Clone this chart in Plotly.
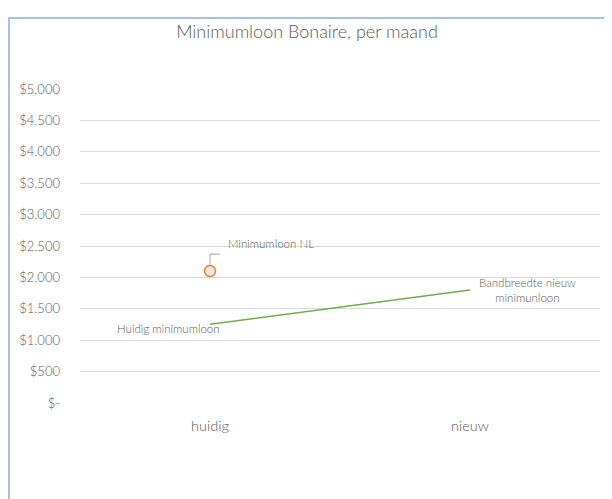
import plotly.graph_objects as go

categories = ["huidig", "nieuw"]
bonaire_values = [1255, 1800]
nl_category = ["huidig"]
nl_values = [2100]
tick_values = [0, 500, 1000, 1500, 2000, 2500, 3000, 3500, 4000, 4500, 5000]
tick_labels = ["$-", "$500", "$1.000", "$1.500", "$2.000", "$2.500", "$3.000",
               "$3.500", "$4.000", "$4.500", "$5.000"]

FONT = "Lato"
GREY = "#595959"
W = 300

L, R, T, B = 72, 20, 81, 104
PW, PH = 612 - L - R, 499 - T - B

fig = go.Figure()
fig.add_trace(go.Scatter(
    x=categories, y=bonaire_values, mode="lines",
    line=dict(color="#70AD47", width=1.5), name="Bonaire", showlegend=False,
))
fig.add_trace(go.Scatter(
    x=nl_category, y=nl_values, mode="markers",
    marker=dict(size=11, color="rgba(237,125,49,0.18)",
                line=dict(color="#ED7D31", width=1.5)),
    name="Minimumloon NL", showlegend=False,
))

# data labels
fig.add_annotation(x=categories[0], y=bonaire_values[0], text="Huidig minimumloon",
                   showarrow=False, xanchor="right", yanchor="middle", xshift=12, yshift=-4,
                   font=dict(family=FONT, size=11.5, color=GREY, weight=W))
fig.add_annotation(x=categories[1], y=bonaire_values[1], text="Bandbreedte nieuw<br>minimunloon",
                   showarrow=False, xanchor="left", yanchor="middle", xshift=7, yshift=0,
                   align="center", font=dict(family=FONT, size=11.5, color=GREY, weight=W))
fig.add_annotation(x=nl_category[0], y=nl_values[0], text="Minimumloon NL",
                   showarrow=False, xanchor="left", yanchor="middle", xshift=16, yshift=28,
                   font=dict(family=FONT, size=11.5, color=GREY, weight=W))
# elbow leader line anchored to the NL point
fig.add_shape(type="path", xref="x", yref="y", xsizemode="pixel", ysizemode="pixel",
              xanchor=nl_category[0], yanchor=nl_values[0],
              path="M 0,6 L 0,17 L 10,17",
              line=dict(color="#A6A6A6", width=1))

# outer chart border (partially outside window)
fig.add_shape(type="rect", xref="paper", yref="paper",
              x0=(1 - L) / PW, x1=(660 - L) / PW,
              y0=-0.5, y1=(T + PH - 10) / PH,
              line=dict(color="#8FAADC", width=1.5), fillcolor="rgba(0,0,0,0)", layer="below")

fig.update_layout(
    width=612, height=499,
    margin=dict(l=L, r=R, t=T, b=B),
    paper_bgcolor="white", plot_bgcolor="white",
    title=dict(text="Minimumloon Bonaire, per maand", x=299 / 612, xref="container",
               xanchor="center", y=1 - 24 / 499, yanchor="middle",
               font=dict(family=FONT, size=18, color=GREY, weight=W)),
    showlegend=False,
    font=dict(family=FONT, color=GREY, weight=W),
)
fig.update_xaxes(
    type="category", categoryorder="array", categoryarray=categories,
    range=[-0.5, 1.5], showgrid=False, showline=False, zeroline=False,
    ticks="", tickfont=dict(family=FONT, size=14.5, color=GREY, weight=W), ticklabelstandoff=12,
)
fig.update_yaxes(
    range=[0, 5000], tickvals=tick_values, ticktext=tick_labels,
    showgrid=True, gridcolor="#D9D9D9", gridwidth=1, zeroline=False,
    showline=False, ticks="", tickfont=dict(family=FONT, size=13, color=GREY, weight=W),
    ticklabelstandoff=19,
)

fig.write_html("out.html")
